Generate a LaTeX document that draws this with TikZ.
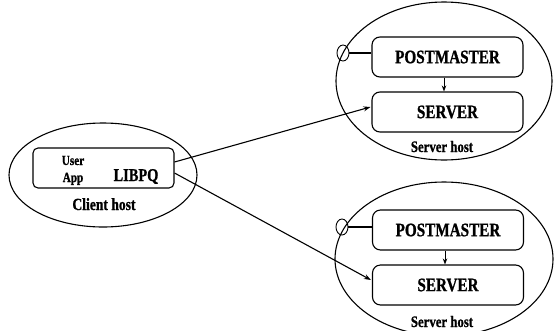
\documentclass[tikz,border=0pt]{standalone}
\usepackage{fontspec}
\setmainfont{Liberation Serif}[FakeStretch=0.8]
\setmainfont{Liberation Serif}[FakeStretch=0.8, BoldFeatures={FakeBold=1}]
\usetikzlibrary{shapes.geometric,arrows.meta}
\tikzset{
  host/.style={draw, ellipse, line width=1.1pt, inner sep=0pt},
  procbox/.style={draw, rounded corners=8pt, line width=1.1pt, minimum width=151pt, minimum height=40pt, inner sep=0pt, font=\bfseries\fontsize{19}{19}\selectfont},
  clientbox/.style={draw, rounded corners=5pt, line width=1.1pt, minimum width=141pt, minimum height=40pt, inner sep=0pt},
  lbl/.style={inner sep=0pt, anchor=base, font=\bfseries\fontsize{16}{16}\selectfont},
  port/.style={draw, ellipse, line width=0.9pt, minimum width=12pt, minimum height=16pt, inner sep=0pt},
  conn/.style={line width=1.1pt, -{Stealth[length=7pt,width=5pt]}}
}
\begin{document}
\begin{tikzpicture}[x=1pt,y=-1pt]
\useasboundingbox (0,0) rectangle (559,330);
% client
\node[host, minimum width=188pt, minimum height=104pt] (ch) at (103,175) {};
\node[clientbox] (cb) at (103.5,168) {};
\node[lbl, font=\bfseries\fontsize{14}{14}\selectfont] (user) at (73,165) {User};
\node[lbl, font=\bfseries\fontsize{14}{14}\selectfont] (app) at (73,182) {App};
\node[lbl, font=\bfseries\fontsize{18}{18}\selectfont] (libpq) at (136,181) {LIBPQ};
\node[lbl, font=\bfseries\fontsize{17}{17}\selectfont] (chl) at (104,210) {Client host};
% server 1
\node[host, minimum width=216pt, minimum height=158pt] (sh1) at (444,81) {};
\node[procbox] (pm1) at (447.5,57) {POSTMASTER};
\node[procbox] (sv1) at (447.5,112) {SERVER};
\node[lbl] (shl1) at (442,152) {Server host};
\node[port] (p1) at (343,53) {};
\draw[line width=1.1pt] (p1.east) -- (pm1.west |- p1.east);
\draw[line width=0.9pt, -{Stealth[length=6pt,width=4.5pt]}] (pm1.south -| 444,0) -- (sv1.north -| 444,0);
% server 2
\node[host, minimum width=218pt, minimum height=154pt] (sh2) at (444,259) {};
\node[procbox] (pm2) at (448,230) {POSTMASTER};
\node[procbox] (sv2) at (448,285) {SERVER};
\node[lbl] (shl2) at (442,327) {Server host};
\node[port] (p2) at (342,227) {};
\draw[line width=1.1pt] (p2.east) -- (pm2.west |- p2.east);
\draw[line width=0.9pt, -{Stealth[length=6pt,width=4.5pt]}] (pm2.south -| 445,0) -- (sv2.north -| 445,0);
% connections
\draw[conn] ([yshift=6pt]cb.east) -- ([xshift=-1pt,yshift=5pt]sv1.west);
\draw[conn] ([yshift=-5pt]cb.east) -- ([xshift=-1pt,yshift=5pt]sv2.west);
\end{tikzpicture}
\end{document}
